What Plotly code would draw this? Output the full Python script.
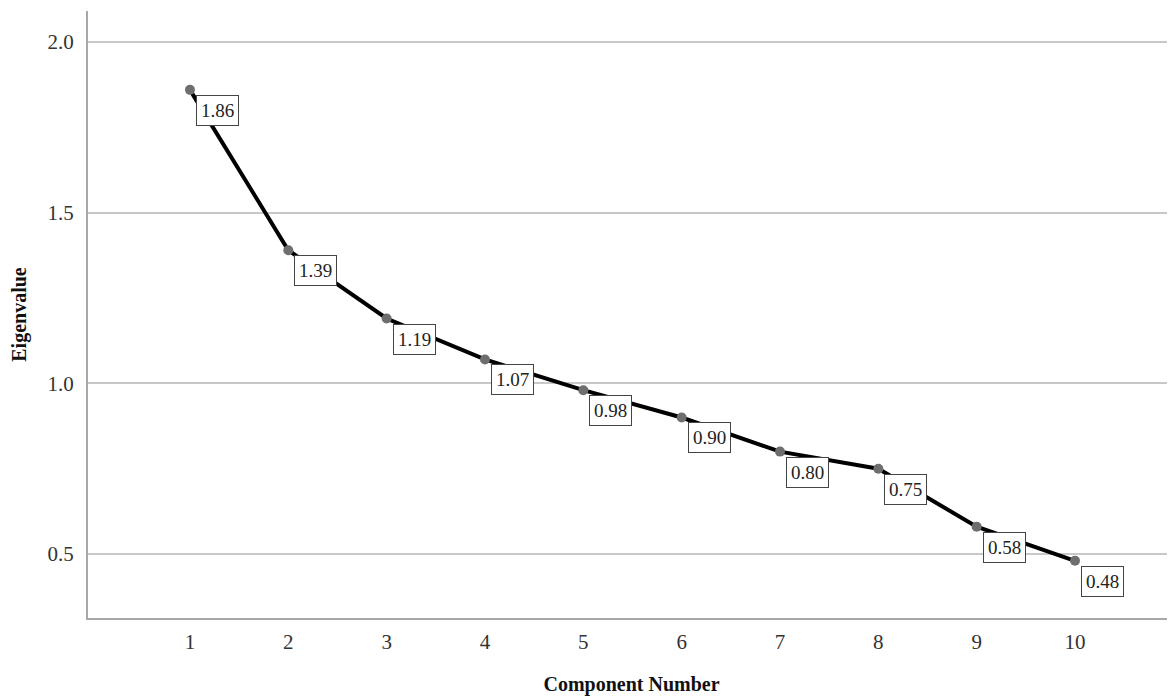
import plotly.graph_objects as go

components = [1, 2, 3, 4, 5, 6, 7, 8, 9, 10]
eigenvalues = [1.86, 1.39, 1.19, 1.07, 0.98, 0.90, 0.80, 0.75, 0.58, 0.48]
y_ticks = [0.5, 1.0, 1.5, 2.0]
y_tick_labels = ["0.5", "1.0", "1.5", "2.0"]

serif = "Liberation Serif, Times New Roman, serif"

fig = go.Figure()
fig.add_trace(go.Scatter(
    x=components, y=eigenvalues, mode="lines+markers",
    line=dict(color="black", width=4),
    marker=dict(color="#6e6e6e", size=10),
    hoverinfo="skip", showlegend=False,
))

for xv, yv in zip(components, eigenvalues):
    fig.add_annotation(
        x=xv, y=yv, text=f"{yv:.2f}", showarrow=False,
        xanchor="left", yanchor="top", xshift=6, yshift=-5,
        font=dict(family=serif, size=19, color="#222"),
        bgcolor="white", bordercolor="#444", borderwidth=1, borderpad=4,
    )

# page body has an 8px default margin, so the figure is sized to fit the window
fig.update_layout(
    width=1167, height=690,
    margin=dict(l=80, r=0, t=3, b=80, autoexpand=False),
    paper_bgcolor="white", plot_bgcolor="white",
    font=dict(family=serif, color="#333"),
)
fig.update_xaxes(
    range=[-0.037, 11.017], tickvals=components,
    ticktext=[str(c) for c in components],
    showgrid=False, zeroline=False,
    showline=True, linecolor="#a8a8a8", linewidth=2,
    ticks="", ticklabelstandoff=4, automargin=False,
    tickfont=dict(family=serif, size=21, color="#333"),
    title=dict(text="<b>Component Number</b>", standoff=24,
               font=dict(family=serif, size=20, color="#111")),
)
fig.update_yaxes(
    range=[0.3125, 2.091], tickvals=y_ticks, ticktext=y_tick_labels,
    showgrid=True, gridcolor="#c8c8c8", gridwidth=1.5, zeroline=False,
    showline=True, linecolor="#a8a8a8", linewidth=2,
    ticks="", ticklabelstandoff=8, automargin=False,
    tickfont=dict(family=serif, size=21, color="#333"),
    title=dict(text="<b>Eigenvalue</b>", standoff=20,
               font=dict(family=serif, size=20, color="#111")),
)

fig.write_html("out.html")
